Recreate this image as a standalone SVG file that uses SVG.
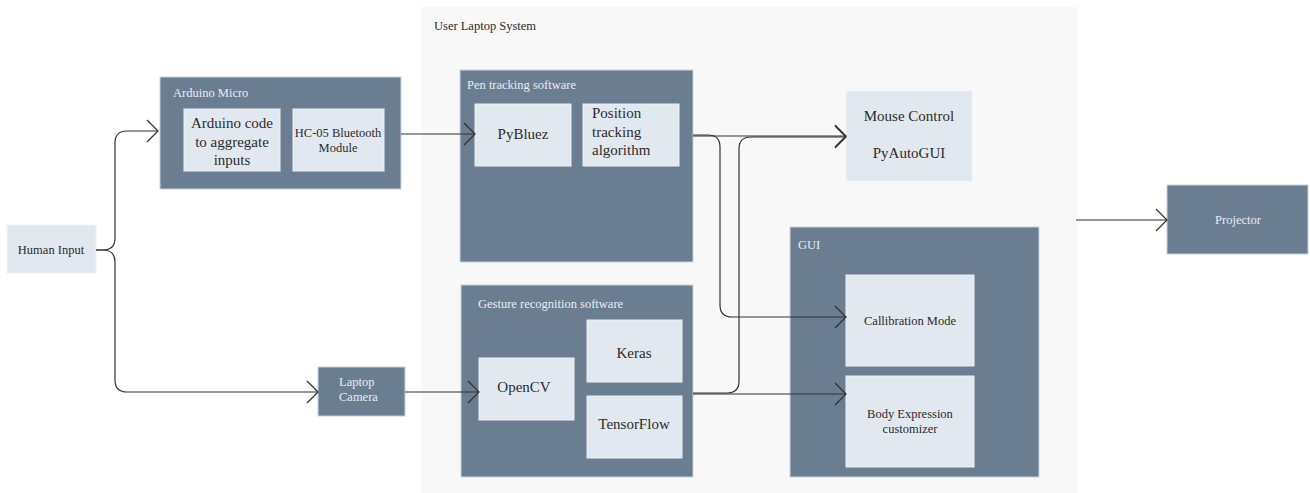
<svg xmlns="http://www.w3.org/2000/svg" width="1310" height="493" viewBox="0 0 1310 493">
<defs>
<style>
.dark{fill:#6a7d91;stroke:#c9d3dd;stroke-width:1}
.light{fill:#e2e8f0;stroke:#eef2f6;stroke-width:1}
text{font-family:"Liberation Serif","DejaVu Serif",serif}
.t{fill:#2b2b2b}
.tl{fill:#e8edf2}
.big{font-size:15px}
.sm{font-size:12.5px}
.c{text-anchor:middle}
.conn{fill:none;stroke:#333;stroke-width:1.2}
</style>
<marker id="arr" viewBox="0 0 13 24" refX="12" refY="12" markerWidth="13" markerHeight="24" markerUnits="userSpaceOnUse" orient="auto">
<path d="M1,1 L12,12 L1,23" fill="none" stroke="#333" stroke-width="1.3"/>
</marker>
</defs>
<rect width="1310" height="493" fill="#ffffff"/>
<g id="user-laptop-system">
<rect x="421" y="7" width="656" height="486" fill="#f8f8f8"/>
<text x="434" y="30" class="t sm">User Laptop System</text>
</g>
<g id="human-input">
<rect x="7" y="225" width="89" height="48" class="light"/>
<text x="51" y="254" class="t sm c">Human Input</text>
</g>
<g id="arduino-micro">
<rect x="160" y="77" width="241" height="112" class="dark"/>
<text x="173" y="97" class="tl sm">Arduino Micro</text>
</g>
<g id="arduino-code">
<rect x="184" y="109" width="96" height="62" class="light"/>
<text x="232" y="128" class="t big c">Arduino code</text>
<text x="232" y="147" class="t big c">to aggregate</text>
<text x="232" y="165" class="t big c">inputs</text>
</g>
<g id="hc05">
<rect x="293" y="109" width="91" height="62" class="light"/>
<text x="338" y="137" class="t sm c">HC-05 Bluetooth</text>
<text x="338" y="152" class="t sm c">Module</text>
</g>
<g id="laptop-camera">
<rect x="318" y="367" width="87" height="49" class="dark"/>
<text x="339" y="386" class="tl sm">Laptop</text>
<text x="339" y="401" class="tl sm">Camera</text>
</g>
<g id="pen-tracking">
<rect x="460" y="70" width="233" height="192" class="dark"/>
<text x="467" y="89" class="tl sm">Pen tracking software</text>
</g>
<g id="pybluez">
<rect x="475" y="104" width="96" height="62" class="light"/>
<text x="523" y="139" class="t big c">PyBluez</text>
</g>
<g id="position-tracking">
<rect x="583" y="104" width="96" height="62" class="light"/>
<text x="592" y="118" class="t big">Position</text>
<text x="592" y="137" class="t big">tracking</text>
<text x="592" y="155" class="t big">algorithm</text>
</g>
<g id="gesture-recognition">
<rect x="461" y="285" width="232" height="192" class="dark"/>
<text x="478" y="308" class="tl sm">Gesture recognition software</text>
</g>
<g id="opencv">
<rect x="479" y="358" width="95" height="62" class="light"/>
<text x="524" y="392" class="t big c">OpenCV</text>
</g>
<g id="keras">
<rect x="587" y="320" width="95" height="62" class="light"/>
<text x="634" y="358" class="t big c">Keras</text>
</g>
<g id="tensorflow">
<rect x="587" y="396" width="95" height="62" class="light"/>
<text x="634" y="429" class="t big c">TensorFlow</text>
</g>
<g id="mouse-control">
<rect x="846" y="91" width="126" height="90" class="light"/>
<text x="909" y="121" class="t big c">Mouse Control</text>
<text x="909" y="158" class="t big c">PyAutoGUI</text>
</g>
<g id="gui">
<rect x="790" y="227" width="249" height="250" class="dark"/>
<text x="798" y="249" class="tl sm">GUI</text>
</g>
<g id="callibration-mode">
<rect x="846" y="275" width="128" height="91" class="light"/>
<text x="910" y="325" class="t sm c">Callibration Mode</text>
</g>
<g id="body-expression">
<rect x="846" y="376" width="128" height="91" class="light"/>
<text x="910" y="418" class="t sm c">Body Expression</text>
<text x="910" y="433" class="t sm c">customizer</text>
</g>
<g id="projector">
<rect x="1167" y="185" width="141" height="69" class="dark"/>
<text x="1238" y="224" class="tl sm c">Projector</text>
</g>
<g id="connectors">
<path class="conn" d="M96,250 H103 Q115,250 115,238 V143 Q115,131 127,131 H158" marker-end="url(#arr)"/>
<path class="conn" d="M96,250 H103 Q115,250 115,262 V380 Q115,392 127,392 H318" marker-end="url(#arr)"/>
<path class="conn" d="M401,134 H475" marker-end="url(#arr)"/>
<path class="conn" d="M405,392 H479" marker-end="url(#arr)"/>
<path class="conn" d="M693,135 H708 Q720,135 720,147 V305 Q720,317 732,317 H846" marker-end="url(#arr)"/>
<path class="conn" d="M693,136 H846" marker-end="url(#arr)"/>
<path class="conn" d="M693,393 H727 Q739,393 739,381 V149 Q739,137 751,137 H846" marker-end="url(#arr)"/>
<path class="conn" d="M693,394 H846" marker-end="url(#arr)"/>
<path class="conn" d="M1076,220 H1167" marker-end="url(#arr)"/>
</g>
</svg>
